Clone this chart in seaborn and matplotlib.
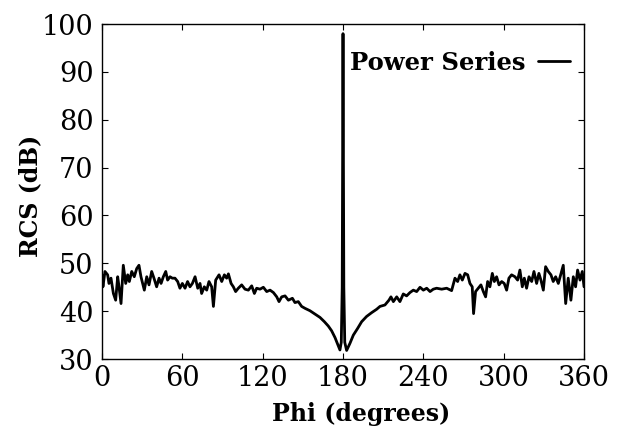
import matplotlib
matplotlib.use("Agg")
import matplotlib.pyplot as plt
import seaborn as sns
import pandas as pd

phi = [0.0, 0.7, 2.2, 4.2, 5.2, 6.7, 8.5, 10.2, 11.7, 12.7, 14.2, 15.9, 17.7, 19.2, 20.4,
       22.2, 24.1, 25.9, 27.6, 29.1, 31.6, 33.4, 35.1, 37.1, 38.8, 40.8, 42.6, 44.1, 45.8,
       47.6, 49.0, 50.8, 52.5, 54.5, 56.5, 58.2, 60.0, 62.0, 63.9, 65.7, 67.5, 69.5, 71.5,
       73.2, 74.4, 76.4, 78.2, 79.9, 81.9, 83.2, 84.9, 87.4, 89.4, 91.4, 93.1, 94.4, 96.4,
       98.1, 99.8, 101.8, 104.3, 106.8, 109.3, 111.8, 113.8, 115.5, 118.0, 120.5, 123.0,
       125.5, 128.0, 130.5, 132.2, 134.2, 136.7, 139.2, 142.2, 144.1, 146.6, 149.1, 151.6,
       155.3, 159.1, 162.8, 166.1, 169.0, 171.5, 174.0, 176.0, 177.7, 178.7, 179.4, 180.0,
       180.6, 181.3, 182.7, 185.2, 187.7, 190.9, 193.9, 197.6, 201.4, 205.1, 207.6, 211.3,
       214.3, 215.8, 217.6, 220.1, 222.5, 225.0, 227.5, 230.0, 232.5, 235.0, 237.5, 240.0,
       242.5, 245.0, 247.4, 249.9, 253.7, 257.4, 261.1, 263.6, 265.6, 267.3, 269.1, 271.1,
       273.1, 274.8, 276.5, 277.5, 279.0, 281.0, 283.0, 284.8, 286.5, 288.0, 289.7, 291.5,
       293.0, 294.7, 296.5, 298.5, 300.4, 302.2, 303.9, 305.9, 308.4, 310.4, 312.1, 313.9,
       315.4, 317.1, 318.9, 320.9, 322.6, 324.6, 326.3, 327.8, 329.6, 331.3, 333.3, 335.3,
       337.0, 338.8, 340.8, 342.8, 344.5, 346.3, 348.2, 350.2, 352.0, 353.7, 355.2, 357.0,
       358.7, 360.0]

rcs = [47.6, 45.1, 48.3, 47.6, 45.8, 46.9, 43.7, 42.3, 47.2, 45.1, 41.6, 49.6, 45.8, 47.6, 46.2,
       48.3, 47.2, 48.9, 49.6, 47.2, 44.4, 47.2, 45.5, 48.3, 46.9, 45.1, 46.9, 45.8, 47.2,
       48.3, 46.5, 47.2, 46.9, 46.9, 46.2, 44.8, 45.8, 44.8, 46.2, 45.1, 45.8, 47.2, 44.8,
       45.8, 43.7, 45.1, 44.4, 46.2, 45.1, 41.0, 46.5, 47.6, 46.2, 47.6, 46.9, 47.8, 45.8,
       45.1, 44.1, 44.8, 45.5, 44.6, 44.4, 45.3, 43.7, 44.8, 44.6, 45.0, 44.1,
       44.4, 43.9, 43.0, 42.0, 43.0, 43.2, 42.3, 42.7, 41.8, 42.0, 41.0, 40.6,
       40.1, 39.4, 38.7, 37.8, 36.9, 35.9, 34.5, 33.1, 31.9, 33.5, 45.0, 98.0,
       45.0, 33.5, 31.8, 33.3, 35.0, 36.4, 37.8, 38.9, 39.7, 40.4, 41.0, 41.3,
       42.3, 43.0, 42.0, 43.0, 42.0, 43.6, 43.2, 43.9, 44.4, 44.1, 45.0, 44.4,
       44.8, 44.1, 44.6, 44.8, 44.6, 44.8, 44.3, 46.9, 46.2, 47.6, 46.5, 47.9,
       47.6, 45.8, 45.1, 39.5, 44.1, 44.8, 45.5, 44.1, 43.0, 46.2, 45.1, 47.9,
       46.2, 47.2, 45.5, 46.2, 45.8, 44.4, 46.9, 47.6, 47.2, 46.5, 48.6, 45.1,
       46.9, 44.8, 47.2, 46.2, 48.3, 45.8, 47.9, 46.5, 44.4, 49.3, 48.3, 47.6,
       46.2, 47.2, 45.8, 47.9, 49.6, 41.6, 46.9, 42.3, 47.2, 45.1, 48.6, 46.5,
       48.3, 45.1]

x_ticks = [0, 60, 120, 180, 240, 300, 360]
y_ticks = [30, 40, 50, 60, 70, 80, 90, 100]

df = pd.DataFrame({"Phi": phi, "RCS": rcs})

sns.set_style("ticks")
plt.rcParams["font.family"] = ["DejaVu Serif"]
plt.rcParams["text.color"] = "black"
plt.rcParams["axes.labelcolor"] = "black"

fig = plt.figure(figsize=(6.19, 4.30), dpi=100)
ax = fig.add_axes([0.1648, 0.165, 0.7787, 0.779])

sns.lineplot(data=df, x="Phi", y="RCS", color="black", linewidth=2.0,
             estimator=None, sort=False, label="Power Series", ax=ax)

ax.set_xlim(0, 360)
ax.set_ylim(30, 100)
ax.set_xticks(x_ticks)
ax.set_yticks(y_ticks)
ax.tick_params(direction="in", length=4, width=0.8, top=True, right=True,
               labelsize=19.5, colors="black")
ax.tick_params(axis="x", pad=4)
ax.tick_params(axis="y", pad=6)
for s in ax.spines.values():
    s.set_linewidth(1.0)
    s.set_color("black")

ax.set_xlabel("Phi (degrees)", fontsize=17, fontweight="bold", color="black")
ax.set_ylabel("RCS (dB)", fontsize=17, fontweight="bold", color="black")
ax.xaxis.set_label_coords(0.537, -0.128)
ax.yaxis.set_label_coords(-0.1245, 0.487)

leg = ax.legend(loc="center right", bbox_to_anchor=(0.971, 0.884), frameon=False,
                markerfirst=False, handlelength=1.3, handletextpad=0.55,
                borderpad=0, borderaxespad=0,
                prop={"family": "DejaVu Serif", "weight": "bold", "size": 17.5})
for t in leg.get_texts():
    t.set_color("black")

fig.savefig("out.png", dpi=100)
